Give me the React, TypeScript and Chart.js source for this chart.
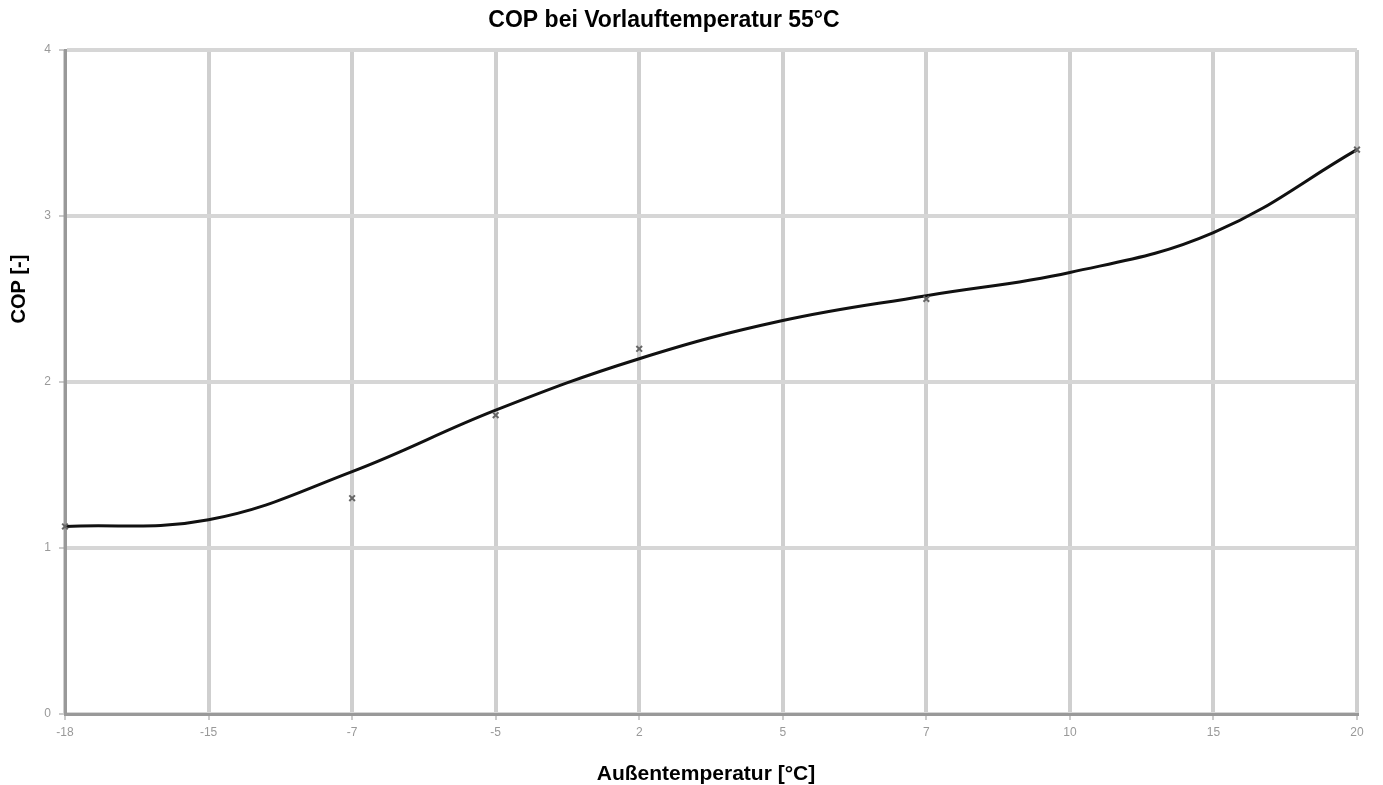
import React, { useEffect, useRef } from "react";
import { Chart, registerables } from "chart.js";

Chart.register(...registerables);

const categories = ["-18", "-15", "-7", "-5", "2", "5", "7", "10", "15", "20"];
const measuredCOP = [1.13, null, 1.3, 1.8, 2.2, null, 2.5, null, null, 3.4];
const trendCOP = [1.13, 1.17, 1.46, 1.83, 2.14, 2.37, 2.52, 2.66, 2.9, 3.4];
const yTicks = [0, 1, 2, 3, 4];

const titleText = "COP bei Vorlauftemperatur 55°C";
const xTitle = "Außentemperatur [°C]";
const yTitle = "COP [-]";

const FONT = "'Liberation Sans', Arial, sans-serif";

const titlesPlugin = {
  id: "titlesPlugin",
  afterDraw(chart: any) {
    const ctx = chart.ctx;
    const a = chart.chartArea;
    ctx.save();
    ctx.fillStyle = "#000";
    ctx.textAlign = "center";
    ctx.textBaseline = "middle";
    ctx.font = `bold 23px ${FONT}`;
    ctx.fillText(titleText, (a.left + a.right) / 2 - 47, 21);
    ctx.font = `bold 21px ${FONT}`;
    ctx.fillText(xTitle, (a.left + a.right) / 2 - 5, a.bottom + 60);
    ctx.font = `bold 20px ${FONT}`;
    ctx.translate(19, (a.top + a.bottom) / 2 - 93);
    ctx.rotate(-Math.PI / 2);
    ctx.fillText(yTitle, 0, 0);
    ctx.restore();
  },
};

export default function App() {
  const ref = useRef<HTMLCanvasElement | null>(null);

  useEffect(() => {
    document.body.style.margin = "0";
    const canvas = ref.current;
    if (!canvas) return;
    const chart = new Chart(canvas, {
      type: "line",
      data: {
        labels: categories,
        datasets: [
          {
            label: "Trend",
            data: trendCOP,
            borderColor: "#111",
            borderWidth: 3,
            pointRadius: 0,
            tension: 0.4,
            fill: false,
            order: 2,
          },
          {
            label: "COP",
            data: measuredCOP,
            showLine: false,
            borderColor: "#666",
            backgroundColor: "#666",
            pointStyle: "crossRot",
            pointRadius: 4,
            pointBorderWidth: 2,
            order: 1,
          },
        ],
      },
      options: {
        animation: false,
        responsive: true,
        maintainAspectRatio: false,
        layout: { padding: { left: 0, top: 50, right: 26, bottom: 0 } },
        plugins: {
          legend: { display: false },
          title: { display: false },
          tooltip: { enabled: false },
        },
        scales: {
          x: {
            type: "category",
            offset: false,
            afterFit(scale: any) {
              scale.height = 71;
            },
            grid: {
              color: "#cfcfcf",
              lineWidth: 4,
              drawTicks: true,
              tickLength: 6,
              tickColor: "#999",
              tickWidth: 1,
            },
            border: { color: "#999", width: 3 },
            ticks: {
              color: "#999",
              font: { family: FONT, size: 12 },
              padding: 5,
              maxRotation: 0,
              autoSkip: false,
            },
          },
          y: {
            min: 0,
            max: 4,
            afterFit(scale: any) {
              scale.width = 65;
            },
            afterBuildTicks(scale: any) {
              scale.ticks = yTicks.map((v) => ({ value: v }));
            },
            grid: {
              color: "#d6d6d6",
              lineWidth: 4,
              drawTicks: true,
              tickLength: 6,
              tickColor: "#999",
              tickWidth: 1,
            },
            border: { color: "#999", width: 3 },
            ticks: {
              color: "#999",
              font: { family: FONT, size: 12 },
              padding: 8,
            },
          },
        },
      },
      plugins: [titlesPlugin],
    });
    return () => chart.destroy();
  }, []);

  return (
    <div style={{ position: "absolute", left: 0, top: 0, width: 1383, height: 785, background: "#fff" }}>
      <canvas ref={ref} />
    </div>
  );
}
